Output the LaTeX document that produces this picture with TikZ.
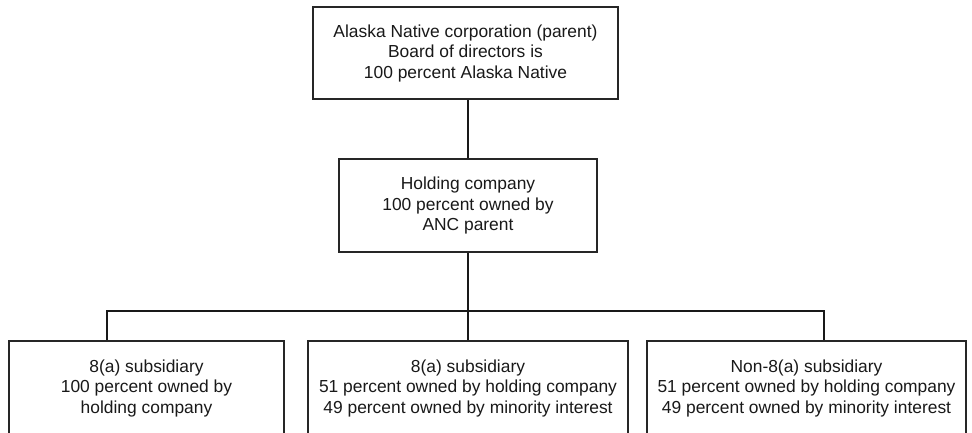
\documentclass[tikz,border=0pt]{standalone}
\usepackage{fontspec}
\setmainfont{Liberation Sans}
\begin{document}
\begin{tikzpicture}[x=1pt,y=-1pt,
  box/.style={draw=black!85, line width=1.2pt, fill=white, align=center, inner sep=0pt,
    font=\fontsize{17.4}{20.5}\selectfont, text=black!90},
  conn/.style={draw=black!90, line width=2.8pt}]
\useasboundingbox (0,0) rectangle (972,432);
\clip (0,0) rectangle (972,432);
\node[box, minimum width=305pt, minimum height=92pt] (t) at (465.5,53) {Alaska Native corporation (parent)\\Board of directors is\\100 percent Alaska Native};
\node[box, minimum width=258pt, minimum height=93pt] (h) at (468,205.5) {Holding company\\100 percent owned by\\ANC parent};
\node[box, minimum width=275pt, minimum height=94pt] (l) at (146.5,388) {8(a) subsidiary\\100 percent owned by\\holding company};
\node[box, minimum width=320pt, minimum height=94pt] (m) at (468,388) {8(a) subsidiary\\51 percent owned by holding company\\49 percent owned by minority interest};
\node[box, minimum width=319pt, minimum height=94pt] (r) at (806.5,388) {Non-8(a) subsidiary\\51 percent owned by holding company\\49 percent owned by minority interest};
\coordinate (dl) at (107,311);
\coordinate (dr) at (824,311);
\draw[conn] (h.north) -- (h.north |- t.south);
\draw[conn] (h.south) -- (m.north);
\draw[conn] (dl |- l.north) -- (dl) -- (dr) -- (dr |- r.north);
\end{tikzpicture}
\end{document}
